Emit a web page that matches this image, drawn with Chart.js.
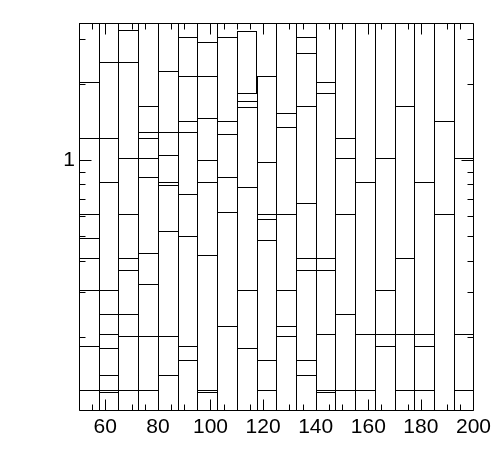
<!DOCTYPE html>
<html><head><meta charset="utf-8">
<script src="https://cdn.jsdelivr.net/npm/chart.js@4/dist/chart.umd.min.js"></script>
<style>html,body{margin:0;padding:0;background:#fff;}canvas{display:block;}</style>
</head><body>
<canvas id="c" width="496" height="472"></canvas>
<script>
// x bins (centres of 7.5-wide bins from 50 to 200)
const binCenters = [53.75, 61.25, 68.75, 76.25, 83.75, 91.25, 98.75, 106.25, 113.75, 121.25,
                    128.75, 136.25, 143.75, 151.25, 158.75, 166.25, 173.75, 181.25, 188.75, 196.25];
// stacked segment boundaries per bin (ascending)
const columnEdges = [
  [0.123, 0.184, 0.306, 0.410, 0.491, 0.611, 1.222, 2.035],
  [0.121, 0.123, 0.141, 0.180, 0.205, 0.246, 0.306, 0.818, 1.222, 2.443],
  [0.123, 0.201, 0.246, 0.367, 0.410, 0.611, 1.018, 2.443, 3.278],
  [0.123, 0.201, 0.323, 0.428, 0.856, 1.018, 1.222, 1.291, 1.640],
  [0.141, 0.201, 0.524, 0.796, 0.818, 1.047, 1.291, 2.250],
  [0.162, 0.184, 0.500, 0.734, 1.291, 1.427, 2.150, 3.067],
  [0.121, 0.123, 0.421, 0.818, 1.000, 1.466, 2.150, 2.931],
  [0.220, 0.623, 0.856, 1.267, 1.427, 3.067],
  [0.180, 0.306, 0.782, 1.621, 1.712, 1.841],
  [0.123, 0.162, 0.482, 0.584, 0.611, 0.982],
  [0.201, 0.220, 0.306, 0.611, 1.351, 1.535],
  [0.141, 0.162, 0.367, 0.410, 0.676, 1.636, 2.651, 3.067],
  [0.121, 0.123, 0.205, 0.367, 0.410, 1.841, 2.035],
  [0.123, 0.246, 0.611, 1.018, 1.222],
  [0.123, 0.205, 0.818],
  [0.184, 0.205, 0.306, 1.018],
  [0.123, 0.205, 0.410, 1.640],
  [0.123, 0.184, 0.205, 0.818],
  [0.611, 1.427],
  [0.123, 0.205, 1.018]
];
// top of each stack (null = runs above the frame)
const columnTops = [null, null, null, null, null, null, null, null, 3.249, 2.150,
                    null, null, null, null, null, null, null, null, null, null];
const xTickValues = [50,55,60,65,70,75,80,85,90,95,100,105,110,115,120,125,130,135,140,145,150,155,160,165,170,175,180,185,190,195,200];
const xLabelValues = [60, 80, 100, 120, 140, 160, 180, 200];
const yTickValues = [0.2, 0.3, 0.4, 0.5, 0.6, 0.7, 0.8, 0.9, 1, 2, 3];
const yLabelValues = [1];
const yRange = [0.10249, 3.4843];
const xRange = [50, 200];

const BELOW = 0.01, ABOVE = 100;
const stacks = columnEdges.map((e, i) => [BELOW, ...e, columnTops[i] === null ? ABOVE : columnTops[i]]);
const nSeg = Math.max(...stacks.map(s => s.length - 1));
const datasets = [];
for (let k = 0; k < nSeg; k++) {
  const data = [];
  stacks.forEach((s, i) => {
    if (k < s.length - 1) {
      const isTop = k === s.length - 2;
      const nextTop = i + 1 < stacks.length ? columnTops[i + 1] : null;
      const needRight = isTop && columnTops[i] !== null && nextTop !== null && nextTop < columnTops[i];
      data.push({x: binCenters[i], y: [s[k], s[k + 1]], r: needRight ? 1 : 0});
    }
  });
  datasets.push({
    data,
    grouped: false,
    categoryPercentage: 1,
    barPercentage: 1,
    backgroundColor: 'rgba(0,0,0,0)',
    borderColor: '#000',
    borderSkipped: false,
    inflateAmount: 0,
    borderWidth: (c) => ({left: 1, top: 1, bottom: 0, right: c.raw ? c.raw.r : 0})
  });
}

// snap bar geometry (computed by the scales) to whole pixels for crisp 1px edges
const pixelSnap = {
  id: 'pixelSnap',
  beforeDatasetsDraw(chart) {
    chart.data.datasets.forEach((d, i) => {
      const meta = chart.getDatasetMeta(i);
      meta.data.forEach(el => {
        const l = Math.round(el.x - el.width / 2), r = Math.round(el.x + el.width / 2);
        el.x = (l + r) / 2;
        el.width = r - l;
        el.y = Math.round(el.y);
        el.base = Math.round(el.base);
        el.height = el.base - el.y;
      });
    });
  }
};

const frameTicks = {
  id: 'frameTicks',
  afterDatasetsDraw(chart) {
    const {ctx, chartArea: a, scales: {x, y}} = chart;
    ctx.save();
    ctx.strokeStyle = '#000';
    ctx.lineWidth = 1;
    const L = Math.round(a.left) + 0.5, R = Math.round(a.right) + 0.5;
    const T = Math.round(a.top) + 0.5, B = Math.round(a.bottom) + 0.5;
    ctx.beginPath();
    ctx.rect(L, T, R - L, B - T);
    xTickValues.forEach(v => {
      const px = Math.round(x.getPixelForValue(v)) + 0.5;
      const len = xLabelValues.includes(v) ? 11 : 6;
      ctx.moveTo(px, B); ctx.lineTo(px, B - len);
      ctx.moveTo(px, T); ctx.lineTo(px, T + len);
    });
    yTickValues.forEach(v => {
      const py = Math.round(y.getPixelForValue(v)) + 0.5;
      const len = yLabelValues.includes(v) ? 12 : 6;
      ctx.moveTo(L, py); ctx.lineTo(L + len, py);
      ctx.moveTo(R, py); ctx.lineTo(R - len, py);
    });
    ctx.stroke();
    ctx.restore();
  }
};

const font = {family: "'Liberation Sans', Arial, Helvetica, sans-serif", size: 21};
new Chart(document.getElementById('c'), {
  type: 'bar',
  data: {datasets},
  options: {
    responsive: false,
    animation: false,
    events: [],
    layout: {padding: {left: 0, right: 20, top: 23, bottom: 0}},
    plugins: {legend: {display: false}, tooltip: {enabled: false}},
    scales: {
      x: {
        type: 'linear', min: xRange[0], max: xRange[1], offset: false,
        grid: {display: false, drawTicks: false}, border: {display: false},
        afterBuildTicks: s => { s.ticks = xLabelValues.map(v => ({value: v})); },
        afterFit: s => { s.height = 62; },
        ticks: {autoSkip: false, maxRotation: 0, padding: 5, color: '#000', font,
                callback: v => String(v)}
      },
      y: {
        type: 'logarithmic', min: yRange[0], max: yRange[1],
        grid: {display: false, drawTicks: false}, border: {display: false},
        afterBuildTicks: s => { s.ticks = yLabelValues.map(v => ({value: v})); },
        afterFit: s => { s.width = 79; },
        ticks: {autoSkip: false, padding: 4, color: '#000', font,
                callback: v => String(v)}
      }
    }
  },
  plugins: [pixelSnap, frameTicks]
});
</script>
</body></html>
